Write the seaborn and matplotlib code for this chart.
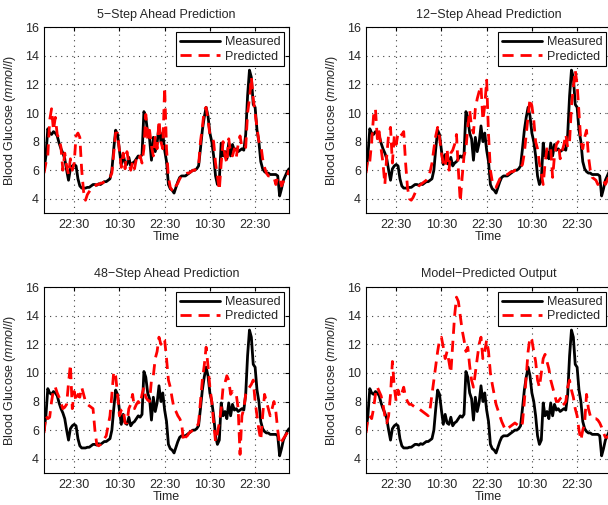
import numpy as np
import pandas as pd
import seaborn as sns
import matplotlib.pyplot as plt
import matplotlib.dates as mdates

# CGM samples on a 30-min grid starting 14:30 on day 1
start_time = "2010-01-01 14:30"
n_samples = 131

measured = [
    6.0, 7.0, 8.9, 8.6, 8.5, 8.7, 8.6, 8.4, 7.9, 7.5, 7.2, 6.8, 6.0, 5.3, 6.1, 6.3,
    6.4, 6.3, 5.4, 4.9, 4.75, 4.75, 4.75, 4.8, 4.8, 4.9, 5.0, 5.0, 4.95, 5.05, 5.0, 5.1,
    5.2, 5.2, 5.3, 5.4, 6.0, 7.5, 8.8, 8.5, 7.4, 6.4, 7.1, 6.5, 6.4, 6.9, 6.3, 6.5,
    6.6, 6.8, 7.0, 6.9, 7.1, 10.1, 9.7, 8.6, 8.2, 6.7, 8.3, 7.3, 7.9, 9.1, 8.0, 8.6,
    7.4, 6.6, 5.0, 4.7, 4.6, 4.4, 4.8, 5.2, 5.5, 5.6, 5.6, 5.6, 5.7, 5.8, 5.9, 6.0,
    6.0, 6.1, 6.3, 7.5, 8.8, 9.7, 10.4, 9.8, 8.6, 8.0, 7.0, 5.6, 5.0, 5.3, 7.9, 7.0,
    7.3, 6.8, 7.9, 7.0, 7.8, 7.4, 7.5, 7.3, 7.4, 7.5, 7.4, 8.5, 11.2, 13.0, 12.5, 10.6,
    10.4, 8.8, 8.0, 6.6, 6.1, 5.9, 5.8, 5.8, 5.7, 5.7, 5.7, 5.7, 5.6, 4.2, 4.7, 5.3,
    5.6, 5.9, 6.1,
]

pred_5step = [
    5.8, 6.5, 7.0, 9.5, 10.3, 8.8, 9.7, 8.5, 8.2, 7.6, 6.0, 7.2, 6.3, 5.7, 6.8, 6.0,
    6.5, 8.4, 8.6, 8.3, 6.0, 4.5, 3.9, 4.3, 4.5, 4.7, 4.8, 4.9, 5.0, 5.0, 5.1, 5.1,
    5.2, 5.3, 5.4, 5.5, 5.8, 7.2, 8.6, 8.6, 7.4, 6.2, 7.2, 6.1, 7.3, 6.5, 6.0, 6.6,
    6.1, 6.8, 6.6, 7.0, 6.5, 7.5, 9.9, 8.2, 8.8, 7.7, 7.0, 8.3, 7.5, 9.5, 8.0, 7.5,
    11.8, 7.5, 5.5, 4.8, 4.6, 4.5, 4.9, 5.1, 5.4, 5.6, 5.7, 5.7, 5.8, 5.8, 5.9, 6.0,
    6.0, 6.2, 6.3, 8.0, 9.0, 10.2, 10.4, 9.5, 8.5, 8.3, 8.0, 6.5, 5.6, 4.6, 6.5, 8.0,
    7.0, 6.5, 8.2, 7.2, 7.0, 7.5, 6.9, 7.8, 8.4, 7.6, 7.5, 7.6, 10.0, 11.0, 12.5, 11.0,
    10.0, 9.0, 8.0, 7.8, 6.8, 6.2, 5.8, 5.6, 5.6, 5.5, 5.5, 5.0, 5.5, 5.5, 4.9, 5.2,
    5.5, 5.6, 6.0,
]

pred_12step = [
    5.8, 6.8, 6.6, 8.0, 9.8, 10.3, 8.2, 8.7, 7.5, 6.5, 5.0, 7.0, 8.5, 9.0, 6.5, 8.4,
    7.8, 8.6, 8.4, 8.5, 8.7, 6.5, 4.8, 4.0, 3.9, 4.1, 4.4, 4.7, 4.9, 5.0, 5.1, 5.2,
    5.3, 5.5, 5.9, 6.5, 7.5, 8.4, 9.0, 8.3, 7.2, 6.5, 6.2, 7.5, 6.0, 7.2, 7.4, 7.8,
    8.5, 6.0, 3.8, 5.5, 7.0, 7.5, 9.0, 10.2, 9.0, 8.6, 10.3, 11.0, 11.5, 11.9, 9.5, 10.5,
    12.3, 8.5, 6.0, 5.2, 4.9, 4.8, 5.1, 5.4, 5.5, 5.6, 5.7, 5.7, 5.8, 5.9, 5.9, 6.0,
    6.0, 6.1, 6.2, 6.4, 7.2, 8.5, 9.8, 11.0, 10.5, 9.5, 8.0, 7.5, 6.5, 5.8, 5.0, 6.5,
    7.5, 7.3, 7.5, 5.5, 7.0, 7.8, 8.0, 6.8, 7.3, 7.8, 8.5, 7.6, 8.0, 10.5, 11.8, 13.0,
    12.0, 10.0, 8.0, 7.5, 8.3, 8.8, 7.0, 6.0, 5.5, 5.4, 5.3, 5.0, 5.1, 5.2, 5.3, 5.0,
    5.3, 5.6, 6.0,
]

pred_48step = [
    5.8, 7.0, 6.8, 6.9, 8.0, 8.8, 9.0, 8.6, 8.3, 7.9, 7.5, 7.6, 7.8, 9.3, 10.6, 7.5,
    8.7, 8.0, 8.5, 8.3, 9.0, 8.5, 8.0, 7.8, 7.7, 7.6, 7.5, 6.0, 5.0, 4.9, 5.0, 5.2,
    5.4, 5.6, 6.3, 7.0, 8.5, 10.1, 9.8, 8.5, 7.0, 7.4, 7.5, 6.5, 6.5, 7.5, 7.8, 8.5,
    7.5, 7.8, 8.0, 7.8, 8.5, 9.0, 8.3, 8.1, 8.0, 9.5, 9.8, 11.0, 11.5, 12.5, 12.0, 12.4,
    12.3, 11.0, 9.5, 9.0, 8.2, 7.5, 7.3, 7.0, 6.8, 6.5, 5.2, 5.5, 5.6, 5.8, 5.9, 6.0,
    6.0, 6.2, 6.5, 8.0, 9.5, 10.5, 11.8, 10.5, 9.0, 8.0, 6.5, 5.2, 5.8, 6.5, 7.5, 9.0,
    9.3, 9.8, 9.5, 8.5, 8.7, 8.5, 8.5, 7.5, 4.3, 7.0, 7.5, 8.5, 8.8, 9.0, 9.2, 9.5,
    8.0, 7.0, 6.0, 5.3, 7.0, 8.5, 8.0, 7.5, 7.0, 7.5, 8.0, 7.3, 6.0, 5.0, 5.2, 5.4,
    5.6, 5.8, 6.0,
]

pred_model = [
    5.8, 6.8, 7.0, 6.8, 7.5, 8.5, 9.0, 8.7, 8.4, 7.8, 7.0, 6.5, 7.0, 8.5, 10.8, 9.0,
    8.0, 8.8, 8.3, 8.6, 9.0, 8.3, 8.0, 7.8, 7.8, 7.7, 7.6, 7.5, 7.5, 7.4, 7.3, 7.2,
    7.1, 7.0, 7.5, 8.5, 9.5, 10.5, 11.5, 12.3, 12.5, 11.8, 11.0, 11.5, 10.8, 10.0, 12.0, 14.0,
    15.3, 15.0, 14.0, 13.0, 12.3, 11.5, 11.8, 10.5, 9.5, 9.0, 10.0, 11.0, 12.0, 12.5, 11.0, 11.5,
    12.3, 11.5, 10.0, 9.2, 8.5, 7.8, 7.4, 7.0, 6.6, 6.3, 6.0, 6.1, 6.2, 6.3, 6.4, 6.5,
    6.4, 6.3, 6.2, 6.5, 8.0, 9.8, 11.5, 12.5, 12.3, 11.5, 10.8, 9.5, 9.0, 10.0, 11.0, 11.3,
    10.8, 10.3, 9.5, 9.0, 8.5, 8.0, 8.0, 8.2, 8.3, 7.8, 8.0, 9.0, 9.5, 8.8, 8.3, 7.5,
    7.0, 6.0, 5.3, 6.0, 6.5, 8.5, 7.5, 7.0, 6.8, 6.8, 6.8, 6.7, 6.5, 6.2, 5.8, 5.5,
    5.5, 5.6, 5.8,
]

panel_titles = [
    "5\u2212Step Ahead Prediction",
    "12\u2212Step Ahead Prediction",
    "48\u2212Step Ahead Prediction",
    "Model\u2212Predicted Output",
]
panel_preds = [pred_5step, pred_12step, pred_48step, pred_model]
tick_times = pd.date_range("2010-01-01 22:30", periods=5, freq="12h")
y_ticks = [4, 6, 8, 10, 12, 14, 16]

times = pd.date_range(start_time, periods=n_samples, freq="30min")

sns.set_style("white")
plt.rcParams["font.family"] = ["Liberation Sans", "DejaVu Sans"]
plt.rcParams["mathtext.fontset"] = "custom"
plt.rcParams["mathtext.rm"] = "Liberation Sans"
plt.rcParams["mathtext.it"] = "Liberation Sans:italic"

fig = plt.figure(figsize=(6.08, 5.05), dpi=100)
# axes placed like the original MATLAB subplots (right column runs off the page)
positions = [
    [0.0724, 0.578, 0.403, 0.368],
    [0.602, 0.578, 0.403, 0.368],
    [0.0724, 0.0634, 0.403, 0.368],
    [0.602, 0.0634, 0.403, 0.368],
]

for pos, title, pred in zip(positions, panel_titles, panel_preds):
    ax = fig.add_axes(pos)
    df = pd.DataFrame({
        "time": np.concatenate([times, times]),
        "glucose": measured + pred,
        "series": ["Measured"] * n_samples + ["Predicted"] * n_samples,
    })
    sns.lineplot(data=df, x="time", y="glucose", hue="series", style="series",
                 palette={"Measured": "black", "Predicted": "red"},
                 dashes={"Measured": "", "Predicted": (4, 2.5)},
                 linewidth=2, ax=ax)

    ax.set_xlim(times[0], times[-1])
    ax.set_ylim(3, 16)
    ax.set_yticks(y_ticks)
    ax.set_xticks(tick_times)
    ax.xaxis.set_major_formatter(mdates.DateFormatter("%H:%M"))
    ax.tick_params(direction="in", length=3, labelsize=9, top=True, right=True,
                   color="black")
    ax.tick_params(axis="x", pad=4)
    ax.grid(True, linestyle=(0, (1, 4)), color="0.25", linewidth=0.8)
    for sp in ax.spines.values():
        sp.set_color("black")
        sp.set_linewidth(0.8)

    ax.set_title(title, fontsize=9, pad=7)
    ax.set_xlabel("Time", fontsize=9, labelpad=0)
    ax.set_ylabel("Blood Glucose ($\\mathit{mmol/l}$)", fontsize=9, labelpad=5)

    leg = ax.legend(loc="upper right", fontsize=9, handlelength=3.2,
                    fancybox=False, framealpha=1, borderaxespad=0.4,
                    handletextpad=0.4, borderpad=0.3, labelspacing=0.2)
    leg.get_frame().set_edgecolor("black")
    leg.get_frame().set_linewidth(0.8)

fig.savefig("out.png", dpi=100)
